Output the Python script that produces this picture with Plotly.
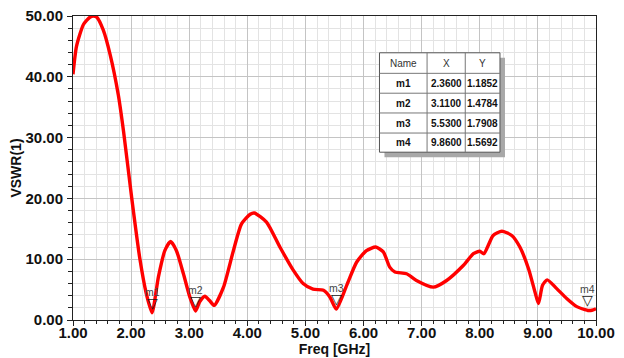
import plotly.graph_objects as go

# ---------------- data ----------------
freq = [1.00, 1.06, 1.18, 1.29, 1.35, 1.41, 1.52, 1.64, 1.78, 1.87, 2.01, 2.15, 2.26, 2.36,
        2.47, 2.58, 2.68, 2.78, 2.90, 3.01, 3.11, 3.18, 3.27, 3.35, 3.43, 3.59, 3.76, 3.90,
        4.05, 4.12, 4.33, 4.56, 4.79, 4.96, 5.13, 5.31, 5.42, 5.53, 5.71, 5.88, 6.05, 6.21,
        6.34, 6.45, 6.54, 6.74, 6.91, 7.20, 7.43, 7.72, 7.89, 8.00, 8.07, 8.23, 8.38, 8.55,
        8.69, 8.84, 8.95, 9.01, 9.08, 9.16, 9.32, 9.50, 9.67, 9.81, 9.86, 9.93, 10.00]
vswr = [40.4, 45.0, 48.6, 49.8, 50.0, 49.8, 47.7, 43.6, 37.0, 31.0, 20.1, 10.1, 4.4, 1.19,
        7.1, 11.4, 12.9, 11.4, 7.6, 3.8, 1.48, 3.0, 3.9, 3.2, 2.4, 5.4, 11.4, 15.8,
        17.4, 17.6, 16.1, 12.0, 8.2, 6.0, 5.06, 4.9, 3.8, 1.79, 5.7, 9.5, 11.4, 12.0,
        11.2, 8.7, 7.9, 7.6, 6.5, 5.4, 6.5, 9.0, 10.9, 11.3, 10.9, 13.9, 14.6, 13.9,
        12.0, 8.4, 4.6, 2.7, 5.7, 6.6, 5.2, 3.5, 2.2, 1.7, 1.57, 1.6, 1.85]

marker_names = ["m1", "m2", "m3", "m4"]
marker_x = [2.36, 3.11, 5.53, 9.86]
marker_y = [1.1852, 1.4784, 1.7908, 1.5692]

x_ticks = [1, 2, 3, 4, 5, 6, 7, 8, 9, 10]
y_ticks = [0, 10, 20, 30, 40, 50]

FONT = "Liberation Sans"

fig = go.Figure()
fig.add_trace(go.Scatter(
    x=freq, y=vswr, mode="lines",
    line=dict(color="#ff0000", width=3.4, shape="spline", smoothing=0.6),
    hoverinfo="skip", showlegend=False, cliponaxis=True,
))

annotations = []
for n, mx, my in zip(marker_names, marker_x, marker_y):
    annotations.append(dict(x=mx, y=my, xref="x", yref="y", text="▽", showarrow=False,
                            yanchor="bottom", yshift=0,
                            font=dict(family="DejaVu Sans", size=14, color="#1a1a1a")))
    annotations.append(dict(x=mx, y=my, xref="x", yref="y", text=n, showarrow=False,
                            yanchor="bottom", yshift=13,
                            font=dict(family=FONT, size=10.5, color="#444444")))

# ---------------- marker table (paper coords) ----------------
col_edges = [0.586, 0.677, 0.750, 0.8164]
row_edges = [0.879, 0.8114, 0.746, 0.681, 0.615, 0.552]
shapes = []
sx, sy = 5 / 523, 5 / 306
shapes.append(dict(type="rect", xref="paper", yref="paper",
                   x0=col_edges[0] + sx, x1=col_edges[-1] + sx,
                   y0=row_edges[-1] - sy, y1=row_edges[0] - sy,
                   fillcolor="#a8a8a8", line=dict(width=0), layer="above"))
shapes.append(dict(type="rect", xref="paper", yref="paper",
                   x0=col_edges[0], x1=col_edges[-1], y0=row_edges[-1], y1=row_edges[0],
                   fillcolor="white", line=dict(color="#555555", width=1), layer="above"))
for yv in row_edges[1:-1]:
    shapes.append(dict(type="line", xref="paper", yref="paper", x0=col_edges[0], x1=col_edges[-1],
                       y0=yv, y1=yv, line=dict(color="#777777", width=1), layer="above"))
for xv in col_edges[1:-1]:
    shapes.append(dict(type="line", xref="paper", yref="paper", x0=xv, x1=xv,
                       y0=row_edges[-1], y1=row_edges[0], line=dict(color="#777777", width=1),
                       layer="above"))

header = ["Name", "X", "Y"]
rows = [header] + [[n, f"{mx:.4f}", f"{my:.4f}"] for n, mx, my in zip(marker_names, marker_x, marker_y)]
for r, row in enumerate(rows):
    yc = (row_edges[r] + row_edges[r + 1]) / 2
    for c, txt in enumerate(row):
        xc = (col_edges[c] + col_edges[c + 1]) / 2
        annotations.append(dict(x=xc, y=yc, xref="paper", yref="paper", text=txt, showarrow=False,
                                xanchor="center", yanchor="middle",
                                font=dict(family=FONT, size=10, color="#333333" if r == 0 else "#111111",
                                          weight="normal" if r == 0 else "bold")))

axis_common = dict(
    showline=True, linecolor="#222222", linewidth=1, mirror=True,
    ticks="outside", tickcolor="#222222", ticklen=5, tickwidth=1,
    showgrid=True, gridcolor="#c4c4c4", gridwidth=1, zeroline=False,
    tickfont=dict(family=FONT, size=15, color="#111111", weight="bold"),
    tickformat=".2f", automargin=False, ticklabeloverflow="allow",
)

# page body has an 8px default margin, so the figure is sized/offset to compensate
fig.update_layout(
    width=616, height=350,
    margin=dict(l=65, r=28, t=8, b=38),
    paper_bgcolor="white", plot_bgcolor="white",
    showlegend=False,
    xaxis=dict(range=[1, 10], tickvals=x_ticks, ticklabelstandoff=-6,
               minor=dict(dtick=0.2, tick0=1, showgrid=True, gridcolor="#e3e3e3", ticks="outside",
                          ticklen=3, tickcolor="#222222"),
               title=dict(text="Freq [GHz]", standoff=0,
                          font=dict(family=FONT, size=14, color="#111111", weight="bold")),
               **axis_common),
    yaxis=dict(range=[0, 50], tickvals=y_ticks, ticklabelstandoff=1,
               minor=dict(dtick=2, tick0=0, showgrid=True, gridcolor="#e3e3e3", ticks="outside",
                          ticklen=4, tickcolor="#222222"),
               title=dict(text="VSWR(1)", standoff=2,
                          font=dict(family=FONT, size=14, color="#111111", weight="bold")),
               **axis_common),
    shapes=shapes,
    annotations=annotations,
)

fig.write_html("out.html")
